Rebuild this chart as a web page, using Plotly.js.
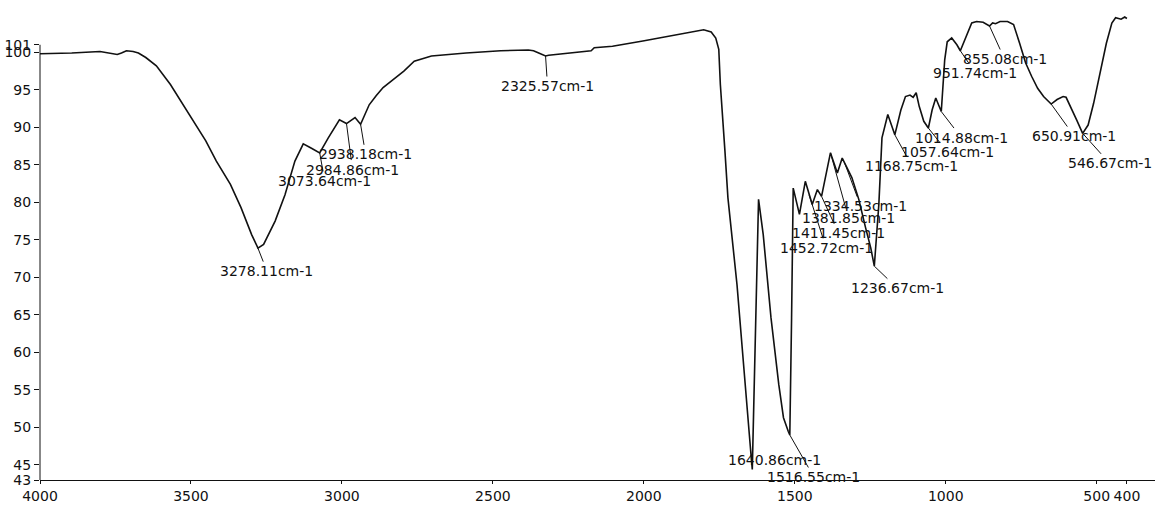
<!DOCTYPE html>
<html>
<head>
<meta charset="utf-8">
<script src="https://cdn.plot.ly/plotly-3.0.1.min.js"></script>
<style>html,body{margin:0;padding:0;background:#fff;}#chart{width:1173px;height:505px;}</style>
</head>
<body>
<div id="chart"></div>
<script>
// Wavenumber (cm-1) and transmittance (%T)
const wavenumber = [
  4000, 3894.9, 3801.3, 3765.2, 3744.2, 3730.2, 3713.7, 3691.6, 3674.1, 3649.6,
  3614.6, 3568.0, 3509.4, 3450.9, 3415.9, 3369.3, 3334.2, 3299.1, 3278.11, 3259.4,
  3221.3, 3188.5, 3155.7, 3128.1, 3100.9, 3073.64, 3045.2, 3008.3, 2984.86, 2956.6,
  2938.18, 2909.7, 2886.7, 2863.6, 2829.3, 2794.9, 2760.5, 2703.5, 2588.8, 2474.4,
  2382.6, 2365.4, 2348.2, 2336.9, 2325.57, 2315.3, 2254.9, 2174.6, 2164.3, 2103.9,
  2003.3, 1902.8, 1801.9, 1776.9, 1761.8, 1751.8, 1746.6, 1731.5, 1721.5, 1691.4,
  1661.2, 1646.0, 1640.86, 1632.5, 1620.1, 1604.6, 1578.8, 1553.0, 1537.5, 1521.8,
  1516.55, 1510.7, 1505.3, 1484.7, 1465.2, 1442.3, 1425.2, 1411.45, 1382.0, 1359.1,
  1343.0, 1311.1, 1288.1, 1265.5, 1248.3, 1236.67, 1221.7, 1211.3, 1192.0, 1168.75,
  1148.7, 1133.5, 1118.4, 1108.0, 1098.0, 1088.0, 1072.8, 1057.64, 1045.2, 1033.1,
  1021.1, 1014.88, 1003.5, 995.2, 980.4, 963.2, 951.74, 935.6, 914.0, 897.9,
  876.3, 855.08, 844.9, 835.1, 820.2, 795.4, 775.4, 755.4, 735.7, 715.7,
  695.7, 676.0, 650.91, 631.3, 611.3, 601.5, 586.6, 566.6, 546.67, 528.5,
  510.3, 486.3, 468.1, 449.9, 437.5, 419.3, 407.3, 400
];
const transmittance = [
  99.8, 99.9, 100.1, 99.9, 99.7, 99.9, 100.2, 100.1, 99.9, 99.3,
  98.2, 95.7, 91.9, 88.2, 85.5, 82.4, 79.3, 75.7, 73.9, 74.4,
  77.5, 81.0, 85.5, 87.8, 87.2, 86.6, 88.6, 91.0, 90.5, 91.3,
  90.4, 93.0, 94.2, 95.3, 96.4, 97.5, 98.8, 99.5, 99.9, 100.2,
  100.3, 100.2, 99.9, 99.7, 99.5, 99.6, 99.9, 100.2, 100.6, 100.8,
  101.5, 102.2, 103.0, 102.7, 101.9, 100.4, 95.7, 86.9, 80.6, 69.0,
  53.5, 46.8, 44.4, 60.2, 80.4, 75.7, 64.6, 55.7, 51.3, 49.5,
  49.0, 64.6, 81.9, 78.4, 82.8, 79.7, 81.7, 80.8, 86.6, 83.9,
  85.9, 83.3, 80.4, 76.6, 73.9, 71.5, 79.7, 88.6, 91.7, 89.0,
  92.3, 94.1, 94.3, 94.0, 94.6, 92.8, 90.8, 89.9, 92.3, 93.9,
  92.8, 92.1, 99.0, 101.4, 101.9, 101.0, 100.2, 101.9, 103.9, 104.1,
  104.0, 103.5, 103.9, 103.8, 104.1, 104.1, 103.7, 101.2, 98.6, 96.8,
  95.2, 94.1, 93.1, 93.7, 94.1, 94.0, 92.8, 91.0, 89.2, 90.3,
  93.2, 97.7, 101.2, 103.9, 104.6, 104.4, 104.7, 104.5
];

// Peak labels
const peakWavenumbers = [3278.11, 3073.64, 2984.86, 2938.18, 2325.57, 1640.86, 1516.55,
  1452.72, 1411.45, 1381.85, 1334.53, 1236.67, 1168.75, 1057.64, 1014.88, 951.74,
  855.08, 650.91, 546.67];
const peakTransmittance = [73.9, 86.6, 90.5, 90.4, 99.5, 44.4, 49.0,
  81.0, 80.8, 86.6, 85.2, 71.5, 89.0, 89.9, 92.1, 100.2,
  103.5, 93.1, 89.2];
const peakLabels = peakWavenumbers.map(v => v.toFixed(2) + 'cm-1');

const xTicks = [4000, 3500, 3000, 2500, 2000, 1500, 1000, 500, 400];
const yTicks = [43, 45, 50, 55, 60, 65, 70, 75, 80, 85, 90, 95, 100, 101];

// label text offsets (pixels) from each peak point
const labelOffsets = [
  [9, 23], [5, 28], [6, 46], [5, 30], [2, 30], [22, -9], [24, 42],
  [17, 53], [17, 37], [18, 65], [16, 43], [23, 22], [17, 31], [19, 24], [20, 26], [15, 22],
  [15, 33], [23, 32], [27, 30]
];

const annotations = peakWavenumbers.map((w, i) => ({
  x: w, y: peakTransmittance[i], xref: 'x', yref: 'y',
  text: peakLabels[i], showarrow: true, arrowhead: 0, arrowwidth: 1,
  arrowcolor: '#111', standoff: 0, startstandoff: 0,
  ax: labelOffsets[i][0], ay: labelOffsets[i][1],
  font: {family: 'DejaVu Sans', size: 14, color: '#111'}
}));

const trace = {
  x: wavenumber, y: transmittance, type: 'scatter', mode: 'lines',
  line: {color: '#111', width: 1.6}, hoverinfo: 'skip'
};

const layout = {
  width: 1173, height: 505,
  margin: {l: 40, r: 18, t: 11, b: 25, pad: 0},
  paper_bgcolor: '#fff', plot_bgcolor: '#fff',
  showlegend: false,
  xaxis: {
    range: [4000, 307], tickvals: xTicks, ticktext: xTicks.map(String),
    ticks: 'outside', ticklen: 3, tickcolor: '#111', tickwidth: 1,
    showline: true, linecolor: '#111', linewidth: 1, showgrid: false, zeroline: false,
    tickangle: 0, automargin: false,
    tickfont: {family: 'DejaVu Sans', size: 14, color: '#111'}
  },
  yaxis: {
    range: [43, 105.5], tickvals: yTicks, ticktext: yTicks.map(String),
    ticks: 'outside', ticklen: 5, tickcolor: '#111', tickwidth: 1,
    showline: false, showgrid: false, zeroline: false, automargin: false,
    tickfont: {family: 'DejaVu Sans', size: 14, color: '#111'}
  },
  shapes: [{type: 'line', xref: 'paper', yref: 'y', x0: 0, x1: 0, y0: 43, y1: 101,
            line: {color: '#111', width: 1}}],
  annotations: annotations
};

Plotly.newPlot('chart', [trace], layout, {staticPlot: true, displayModeBar: false});
</script>
</body>
</html>
